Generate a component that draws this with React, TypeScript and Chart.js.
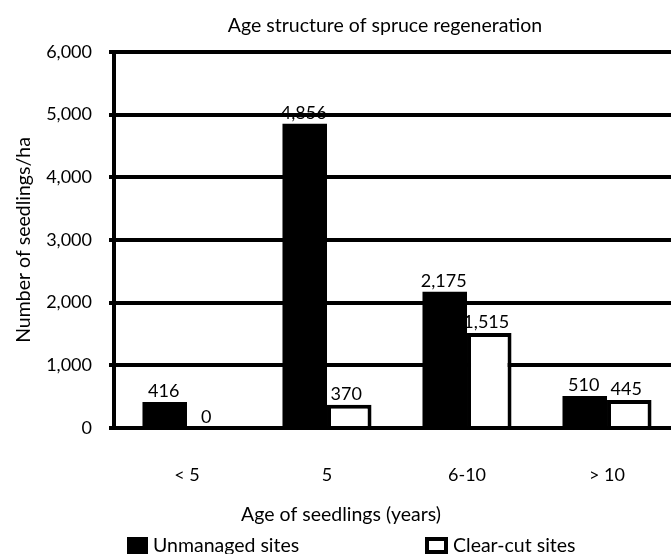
import React, { useEffect, useRef } from "react";
import { Chart, registerables } from "chart.js";

Chart.register(...registerables);

const categories = ["< 5", "5", "6-10", "> 10"];
const unmanaged = [416, 4856, 2175, 510];
const clearCut = [0, 370, 1515, 445];
const seriesNames = ["Unmanaged sites", "Clear-cut sites"];
const chartTitle = "Age structure of spruce regeneration";
const xTitle = "Age of seedlings (years)";
const yTitle = "Number of seedlings/ha";

const FONT = "Lato, 'Open Sans', sans-serif";
const W = 671;
const H = 554;
const NUM_SIZE = 18;
const TXT_SIZE = 19.5;

const decorPlugin = {
  id: "decor",
  afterDatasetsDraw(chart: any) {
    const ctx = chart.ctx;
    ctx.save();
    ctx.fillStyle = "#000";
    ctx.font = `${NUM_SIZE}px ${FONT}`;
    ctx.textAlign = "center";
    ctx.textBaseline = "alphabetic";
    chart.data.datasets.forEach((ds: any, di: number) => {
      const meta = chart.getDatasetMeta(di);
      meta.data.forEach((el: any, i: number) => {
        const v = ds.data[i].y;
        ctx.fillText(v.toLocaleString("en-US"), el.x - (di === 0 ? 1 : 3), el.y - 5);
      });
    });
    ctx.restore();
  },
  afterDraw(chart: any) {
    const ctx = chart.ctx;
    ctx.save();
    ctx.fillStyle = "#000";
    ctx.textAlign = "center";
    ctx.textBaseline = "alphabetic";
    ctx.font = `${TXT_SIZE}px ${FONT}`;
    ctx.fillText(chartTitle, 385, 32);
    ctx.fillText(xTitle, 341, 521);
    // legend
    ctx.textAlign = "left";
    ctx.fillRect(127, 537, 21, 17);
    ctx.fillText(seriesNames[0], 153, 552);
    ctx.fillStyle = "#fff";
    ctx.strokeStyle = "#000";
    ctx.lineWidth = 4;
    ctx.fillRect(427, 539, 19, 13);
    ctx.strokeRect(427, 539, 19, 13);
    ctx.fillStyle = "#000";
    ctx.fillText(seriesNames[1], 453, 552);
    ctx.restore();
  },
};

export default function App() {
  const ref = useRef<HTMLCanvasElement | null>(null);
  useEffect(() => {
    if (!ref.current) return;
    const chart = new Chart(ref.current, {
      type: "bar",
      data: {
        datasets: [
          {
            label: seriesNames[0],
            data: unmanaged.map((y, i) => ({ x: i, y })),
            backgroundColor: "#000",
            borderColor: "#000",
            borderWidth: 0,
          },
          {
            label: seriesNames[1],
            data: clearCut.map((y, i) => ({ x: i, y })),
            backgroundColor: "#fff",
            borderColor: "#000",
            borderWidth: 4,
          },
        ],
      },
      options: {
        responsive: false,
        animation: false,
        events: [],
        layout: { padding: { top: 52, left: 0, right: 0, bottom: 0 } },
        categoryPercentage: 0.636,
        barPercentage: 1,
        plugins: {
          legend: { display: false },
          title: { display: false },
          tooltip: { enabled: false },
        },
        scales: {
          x: {
            type: "linear",
            offset: false,
            min: -0.5214,
            max: 3.457,
            afterBuildTicks: (s: any) => {
              s.ticks = categories.map((_, i) => ({ value: i }));
            },
            afterFit: (s: any) => {
              s.height = 126;
            },
            ticks: {
              color: "#000",
              font: { family: FONT, size: NUM_SIZE },
              padding: 36,
              maxRotation: 0,
              autoSkip: false,
              callback: (v: any) => categories[Math.round(v)] ?? "",
            },
            grid: { display: false, drawTicks: false },
            border: { display: false },
          },
          y: {
            min: 0,
            max: 6000,
            afterFit: (s: any) => {
              s.width = 114;
            },
            ticks: {
              stepSize: 1000,
              color: "#000",
              font: { family: FONT, size: NUM_SIZE },
              padding: 17,
              callback: (v: any) => Number(v).toLocaleString("en-US"),
            },
            grid: { color: "#000", lineWidth: 4, tickLength: 5 },
            border: { display: true, color: "#000", width: 4 },
            title: {
              display: true,
              text: yTitle,
              color: "#000",
              font: { family: FONT, size: TXT_SIZE },
              padding: { top: 12, bottom: 0 },
            },
          },
        },
      } as any,
      plugins: [decorPlugin],
    });
    return () => chart.destroy();
  }, []);
  return (
    <div style={{ position: "fixed", left: 0, top: 0, width: W, height: H, background: "#fff" }}>
      <canvas ref={ref} width={W} height={H} style={{ display: "block" }} />
    </div>
  );
}
